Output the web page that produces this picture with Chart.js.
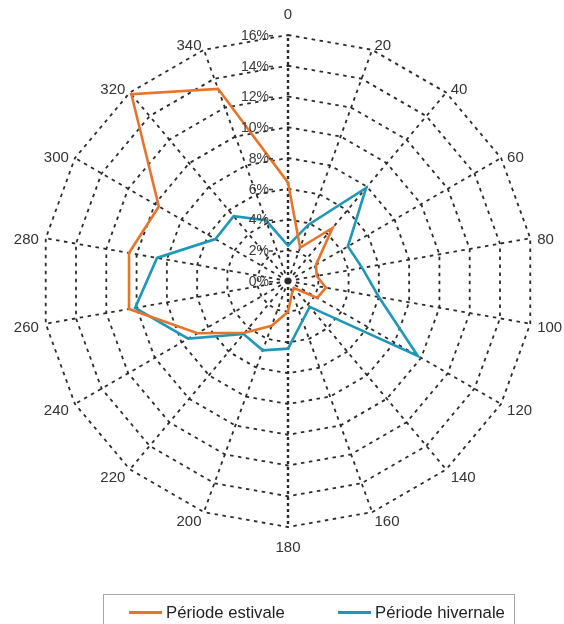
<!DOCTYPE html>
<html><head><meta charset="utf-8">
<script src="https://cdn.jsdelivr.net/npm/chart.js@4.4.1/dist/chart.umd.min.js"></script>
<style>
html,body{margin:0;padding:0;background:#fff;}
#wrap{position:relative;width:564px;height:624px;overflow:hidden;background:#fff;}
#c{position:absolute;left:0;top:0;}
#legend{position:absolute;left:103px;top:594px;width:412px;height:40px;border:1px solid #a6a6a6;box-sizing:border-box;font-family:'Liberation Sans',Arial,sans-serif;font-size:16.7px;color:#222;}
.item{position:absolute;top:8px;white-space:nowrap;line-height:20px;}
.sw{display:inline-block;width:33px;height:3px;vertical-align:middle;margin-right:4px;position:relative;top:-1px;}
</style></head>
<body>
<div id="wrap">
<canvas id="c" width="564" height="624"></canvas>
<div id="legend">
  <div class="item" style="left:25px"><span class="sw" style="background:#e8742c"></span>Période estivale</div>
  <div class="item" style="left:234px"><span class="sw" style="background:#1f97b8"></span>Période hivernale</div>
</div>
</div>
<script>
// Directions (degrees)
const directions = ['0','20','40','60','80','100','120','140','160','180','200','220','240','260','280','300','320','340'];
// Frequencies (%)
const estivale  = [6.4, 2.3, 4.5, 2.1, 1.9, 2.5, 2.2, 0.6, 0.8, 2.0, 3.1, 4.4, 6.8, 10.5, 10.5, 9.7, 15.85, 13.3];
const hivernale = [2.3, 3.9, 7.9, 4.5, 4.9, 6.0, 9.75, 2.2, 2.75, 4.4, 4.8, 4.5, 7.5, 10.1, 8.65, 5.45, 5.5, 4.2];
// Radial tick values and labels
const tickValues = [0, 2, 4, 6, 8, 10, 12, 14, 16];
const tickLabels = ['0%', '2%', '4%', '6%', '8%', '10%', '12%', '14%', '16%'];

const seriesNames = ['Période estivale', 'Période hivernale'];
const colors = ['#e8742c', '#1f97b8'];
const FONT = '"Liberation Sans", Arial, sans-serif';

const tickPlugin = {
  id: 'leftTicks',
  afterDraw(chart) {
    const r = chart.scales.r;
    const ctx = chart.ctx;
    ctx.save();
    ctx.font = '14px ' + FONT;
    ctx.textAlign = 'right';
    ctx.textBaseline = 'middle';
    ctx.fillStyle = '#3a3a3a';
    tickValues.forEach((v, i) => {
      const y = r.yCenter - r.getDistanceFromCenterForValue(v);
      ctx.fillText(tickLabels[i], r.xCenter - 19, y + 1);
      ctx.fillRect(r.xCenter - 19, y, 4, 1.5);
    });
    ctx.restore();
  }
};

const labelPlugin = {
  id: 'dirLabels',
  afterDraw(chart) {
    const r = chart.scales.r;
    const ctx = chart.ctx;
    ctx.save();
    ctx.font = '15px ' + FONT;
    ctx.fillStyle = '#333';
    ctx.textBaseline = 'middle';
    directions.forEach((lab, i) => {
      const a = r.getIndexAngle(i);
      const s = Math.sin(a), c = Math.cos(a);
      const p = r.getPointPosition(i, r.drawingArea + 7);
      let x = p.x, y = p.y;
      if (Math.abs(s) < 0.05) {
        ctx.textAlign = 'center';
        y = p.y - c * 13.5;
      } else {
        ctx.textAlign = s > 0 ? 'left' : 'right';
        y = p.y + 3;
      }
      ctx.fillText(lab, x, y);
    });
    ctx.restore();
  }
};

const isAxis = (ctx) => ctx.index === 0 || ctx.index === 9;

new Chart(document.getElementById('c'), {
  type: 'radar',
  data: {
    labels: directions,
    datasets: [
      { label: seriesNames[0], data: estivale, borderColor: colors[0], backgroundColor: 'transparent', borderWidth: 2.6, pointRadius: 0, fill: false, tension: 0 },
      { label: seriesNames[1], data: hivernale, borderColor: colors[1], backgroundColor: 'transparent', borderWidth: 2.6, pointRadius: 0, fill: false, tension: 0 }
    ]
  },
  options: {
    responsive: false,
    animation: false,
    layout: { padding: { left: 42, right: 30, top: 35, bottom: 97 } },
    plugins: { legend: { display: false }, tooltip: { enabled: false } },
    scales: {
      r: {
        min: 0, max: 16,
        ticks: { stepSize: 2, display: false },
        grid: { color: '#2b2b2b', lineWidth: 1.8, borderDash: [3.5, 4.5] },
        border: { dash: [3.5, 4.5] },
        angleLines: {
          color: '#2b2b2b',
          lineWidth: (ctx) => isAxis(ctx) ? 2.4 : 1.8,
          borderDash: (ctx) => isAxis(ctx) ? [3, 3] : [3.5, 4.5]
        },
        pointLabels: { display: false }
      }
    }
  },
  plugins: [tickPlugin, labelPlugin]
});
</script>
</body></html>
